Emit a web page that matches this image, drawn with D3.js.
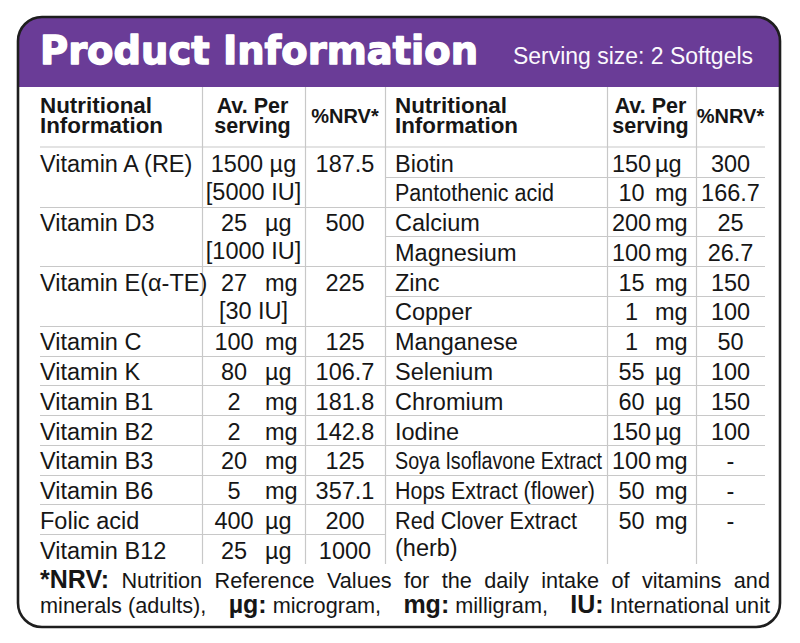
<!DOCTYPE html>
<html><head><meta charset="utf-8">
<script src="https://cdn.jsdelivr.net/npm/d3@7"></script>
<style>body{margin:0;background:#fff}svg{display:block}</style>
</head><body>
<svg id="c" width="800" height="643"></svg>
<script>
// ---------- DATA ----------
const title = "Product Information";
const servingLabel = "Serving size: 2 Softgels";
const headerName = ["Nutritional", "Information"];
const headerAmount = ["Av. Per", "serving"];
const headerNRV = "%NRV*";

const leftNames = ["Vitamin A (RE)", "Vitamin D3", "Vitamin E(α-TE)", "Vitamin C", "Vitamin K",
  "Vitamin B1", "Vitamin B2", "Vitamin B3", "Vitamin B6", "Folic acid", "Vitamin B12"];
const leftAmounts = ["1500", "25", "27", "100", "80", "2", "2", "20", "5", "400", "25"];
const leftUnits = ["µg", "µg", "mg", "mg", "µg", "mg", "mg", "mg", "mg", "µg", "µg"];
const leftIU = ["[5000 IU]", "[1000 IU]", "[30 IU]", "", "", "", "", "", "", "", ""];
const leftNRV = ["187.5", "500", "225", "125", "106.7", "181.8", "142.8", "125", "357.1", "200", "1000"];

const rightNames = ["Biotin", "Pantothenic acid", "Calcium", "Magnesium", "Zinc", "Copper", "Manganese",
  "Selenium", "Chromium", "Iodine", "Soya Isoflavone Extract", "Hops Extract (flower)", "Red Clover Extract"];
const rightNames2 = ["", "", "", "", "", "", "", "", "", "", "", "", "(herb)"];
const rightAmounts = ["150", "10", "200", "100", "15", "1", "1", "55", "60", "150", "100", "50", "50"];
const rightUnits = ["µg", "mg", "mg", "mg", "mg", "mg", "mg", "µg", "µg", "µg", "mg", "mg", "mg"];
const rightNRV = ["300", "166.7", "25", "26.7", "150", "100", "50", "100", "150", "100", "-", "-", "-"];

const footLine1 = [["*NRV:", true], ["Nutrition", false], ["Reference", false], ["Values", false], ["for", false],
  ["the", false], ["daily", false], ["intake", false], ["of", false], ["vitamins", false], ["and", false]];
const footLine2 = [["minerals (adults),", false], ["µg:", true], ["microgram,", false], ["mg:", true],
  ["milligram,", false], ["IU:", true], ["International unit", false]];

// ---------- LAYOUT ----------
const FONT = "'Liberation Sans', Arial, sans-serif";
const TXT = "#161616";
const GRID = "#c8c8c8";
const PURPLE = "#6a3c97";
const box = {x: 18, y: 17, w: 762, h: 610, r: 24};
const headBottom = 87;
const tableTop = 147, tableBottom = 564;
const cols = {L: [40, 202, 305, 385], R: [385, 607, 696, 765]};
const fitWidths = {"Pantothenic acid": 159, "Soya Isoflavone Extract": 207, "Hops Extract (flower)": 200, "Red Clover Extract": 182};

const svg = d3.select("#c");

// row scale (in units of single rows)
const y = d3.scaleLinear().domain([0, 14]).range([tableTop, tableBottom]);

// background box with purple header
const defs = svg.append("defs");
defs.append("clipPath").attr("id", "bx").append("rect")
  .attr("x", box.x).attr("y", box.y).attr("width", box.w).attr("height", box.h).attr("rx", box.r);
svg.append("rect").attr("x", box.x).attr("y", box.y).attr("width", box.w).attr("height", box.h)
  .attr("rx", box.r).attr("fill", "#fff");
svg.append("rect").attr("clip-path", "url(#bx)").attr("x", box.x).attr("y", box.y)
  .attr("width", box.w).attr("height", headBottom - box.y).attr("fill", PURPLE);

// title
svg.append("text").attr("x", 40).attr("y", 64).text(title)
  .attr("font-family", "'DejaVu Sans', sans-serif").attr("font-weight", "bold").attr("font-size", 38.5)
  .attr("fill", "#fff").attr("stroke", "#fff").attr("stroke-width", 1.4).attr("stroke-linejoin", "round")
  .attr("textLength", 438).attr("lengthAdjust", "spacingAndGlyphs");
svg.append("text").attr("x", 513).attr("y", 64).text(servingLabel)
  .attr("font-family", FONT).attr("font-size", 23).attr("fill", "#fbf8fd")
  .attr("textLength", 240).attr("lengthAdjust", "spacingAndGlyphs");

const g = svg.append("g");

// build row structures
function buildRows(names, names2, amounts, units, line2, nrv) {
  let pos = 0;
  return names.map((n, i) => {
    const span = (line2 && line2[i]) || (names2 && names2[i]) ? 2 : 1;
    const r = {name: n, name2: names2 ? names2[i] : "", amt: amounts[i], unit: units[i],
      iu: line2 ? line2[i] : "", nrv: nrv[i], start: pos, span: span};
    pos += span;
    return r;
  });
}
const leftRows = buildRows(leftNames, null, leftAmounts, leftUnits, leftIU, leftNRV);
const rightRows = buildRows(rightNames, rightNames2, rightAmounts, rightUnits, null, rightNRV);

// grid lines
function gridFor(rows, c) {
  g.append("line").attr("x1", c[0]).attr("x2", c[3]).attr("y1", y(0)).attr("y2", y(0))
    .attr("stroke", GRID).attr("stroke-width", 1.2);
  rows.slice(0, -1).forEach(r => {
    const yy = Math.round(y(r.start + r.span)) + 0.5;
    g.append("line").attr("x1", c[0]).attr("x2", c[3]).attr("y1", yy).attr("y2", yy)
      .attr("stroke", GRID).attr("stroke-width", 1.2);
  });
}
gridFor(leftRows, cols.L);
gridFor(rightRows, cols.R);
[cols.L[1], cols.L[2], cols.L[3], cols.R[1], cols.R[2]].forEach(x => {
  g.append("line").attr("x1", x + 0.5).attr("x2", x + 0.5).attr("y1", headBottom).attr("y2", tableBottom)
    .attr("stroke", GRID).attr("stroke-width", 1.2);
});

// header labels
function header(c) {
  const hs = {"font-family": FONT, "font-weight": "bold", "font-size": 21.5, "fill": TXT};
  headerName.forEach((t, i) => {
    const e = g.append("text").attr("x", c[0] + (c === cols.R ? 10 : 0)).attr("y", 113 + i * 20).text(t);
    Object.entries(hs).forEach(([k, v]) => e.attr(k, v));
    e.attr("textLength", i === 0 ? 112 : 123).attr("lengthAdjust", "spacingAndGlyphs");
  });
  headerAmount.forEach((t, i) => {
    const e = g.append("text").attr("x", (c[1] + c[2]) / 2 - 1).attr("y", 113 + i * 20)
      .attr("text-anchor", "middle").text(t);
    Object.entries(hs).forEach(([k, v]) => e.attr(k, v));
  });
  const e = g.append("text").attr("x", (c[2] + c[3]) / 2).attr("y", 123).attr("text-anchor", "middle")
    .text(headerNRV);
  Object.entries(hs).forEach(([k, v]) => e.attr(k, v));
  e.attr("font-size", 20);
}
header(cols.L);
header(cols.R);

// row contents
function body(rows, c, nameX, numC, unitX) {
  const sel = g.append("g").attr("font-family", FONT).attr("font-size", 23.5).attr("fill", TXT)
    .selectAll("g").data(rows).join("g")
    .attr("transform", d => `translate(0,${y(d.start) + 24.5})`);
  sel.append("text").attr("x", nameX).text(d => d.name)
    .each(function (d) {
      if (fitWidths[d.name]) d3.select(this).attr("textLength", fitWidths[d.name]).attr("lengthAdjust", "spacingAndGlyphs");
    });
  sel.filter(d => d.name2).append("text").attr("x", nameX).attr("y", 27).text(d => d.name2);
  sel.filter(d => d.amt.length >= 4).append("text").attr("x", (c[1] + c[2]) / 2).attr("text-anchor", "middle")
    .text(d => d.amt + " " + d.unit);
  const short = sel.filter(d => d.amt.length < 4);
  short.append("text").attr("x", numC).attr("text-anchor", "middle").text(d => d.amt);
  short.append("text").attr("x", unitX).text(d => d.unit);
  sel.filter(d => d.iu).append("text").attr("x", (c[1] + c[2]) / 2).attr("y", 28)
    .attr("text-anchor", "middle").text(d => d.iu);
  sel.append("text").attr("x", (c[2] + c[3]) / 2).attr("text-anchor", "middle").text(d => d.nrv);
}
body(leftRows, cols.L, 40, 234, 265);
body(rightRows, cols.R, 395, 631.5, 655);

// footer (justified)
const fg = svg.append("g").attr("font-family", FONT).attr("fill", TXT);
function measure(t, bold) {
  const e = fg.append("text").attr("font-size", bold ? 25 : 21.7).attr("font-weight", bold ? "bold" : "normal").text(t);
  const w = e.node().getComputedTextLength();
  e.remove();
  return w;
}
function placeLine(items, baseline, gaps) {
  let x = 40;
  items.forEach(([t, b], i) => {
    fg.append("text").attr("x", x).attr("y", baseline).attr("font-size", b ? 25 : 21.7)
      .attr("font-weight", b ? "bold" : "normal").text(t);
    x += measure(t, b) + (i < gaps.length ? gaps[i] : 0);
  });
}
(function () {
  const L = 730;
  const w1 = footLine1.map(([t, b]) => measure(t, b));
  const gap1 = (L - d3.sum(w1)) / (footLine1.length - 1);
  placeLine(footLine1, 588, footLine1.slice(1).map(() => gap1));
  const w2 = footLine2.map(([t, b]) => measure(t, b));
  const small = 6;
  const nSmall = footLine2.filter(([t, b], i) => b && i < footLine2.length - 1).length;
  const nBig = footLine2.length - 1 - nSmall;
  const big = (L - d3.sum(w2) - nSmall * small) / nBig;
  placeLine(footLine2, 613, footLine2.slice(0, -1).map(([t, b]) => b ? small : big));
})();

// outer border
svg.append("rect").attr("x", box.x).attr("y", box.y).attr("width", box.w).attr("height", box.h)
  .attr("rx", box.r).attr("fill", "none").attr("stroke", "#1e1e1e").attr("stroke-width", 2.6);
</script>
</body></html>
